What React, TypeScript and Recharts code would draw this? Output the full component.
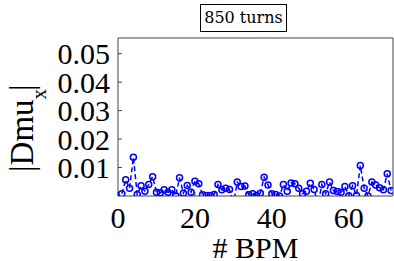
import React from 'react';
import { LineChart, Line, XAxis, YAxis } from 'recharts';

const bpm: number[] = [
  1, 2, 3, 4, 5, 6, 7, 8, 9, 10, 11, 12, 13, 14, 15, 16, 17, 18, 19, 20,
  21, 22, 23, 24, 25, 26, 27, 28, 29, 30, 31, 32, 33, 34, 35, 36, 37, 38, 39, 40,
  41, 42, 43, 44, 45, 46, 47, 48, 49, 50, 51, 52, 53, 54, 55, 56, 57, 58, 59, 60,
  61, 62, 63, 64, 65, 66, 67, 68, 69, 70, 71,
];

const dmux: number[] = [
  0.0008, 0.0057, 0.0027, 0.0136, 0.0005, 0.0036, 0.0017, 0.004, 0.0068, 0.0013,
  0.0011, 0.0022, 0.0013, 0.0022, 0.0001, 0.0064, 0.001, 0.0037, 0.0013, 0.0052,
  0.0043, 0.0004, 0.0002, 0.0002, 0.0005, 0.004, 0.0022, 0.0027, 0.0023, -0.003,
  0.0049, 0.0033, 0.0035, 0.0004, 0.0008, 0.0002, 0.001, 0.0066, 0.0039, 0.0008,
  0.0005, 0.0, 0.004, 0.0017, 0.0046, 0.0043, 0.0027, 0.0008, 0.0017, 0.0045,
  0.0023, -0.003, 0.004, 0.0008, 0.0049, 0.0019, 0.0016, 0.0013, 0.0033, 0.0001,
  0.0036, 0.0002, 0.0107, 0.0027, 0.0, 0.0049, 0.0039, 0.0029, 0.0022, 0.0078,
  0.0019,
];

const xTicks: number[] = [0, 20, 40, 60];
const yTicks: number[] = [0.01, 0.02, 0.03, 0.04, 0.05];
const xLabels: string[] = ['0', '20', '40', '60'];
const yLabels: string[] = ['0.01', '0.02', '0.03', '0.04', '0.05'];
const title = '850 turns';

const data = bpm.map((b, i) => ({ bpm: b, v: dmux[i] }));

const FONT = '"Liberation Serif", serif';
const FRAME = '#444';

const YLabel = (props: any) => {
  const vb = props.viewBox || { x: 0, y: 0, width: 0, height: 0 };
  const bx = vb.x + 33;
  const by = vb.y + vb.height - 24;
  return (
    <text
      transform={`translate(${bx},${by}) rotate(-90)`}
      x={0}
      y={0}
      fontFamily={FONT}
      fontSize={33}
      fill="#000"
      textAnchor="start"
    >
      <tspan>|Dmu</tspan>
      <tspan fontSize={21} dy={13}>x</tspan>
      <tspan dy={-13} dx={-2}>|</tspan>
    </text>
  );
};

export default function App() {
  return (
    <div style={{ position: 'absolute', left: 0, top: 0, width: 394, height: 261, background: '#fff' }}>
      <LineChart
        width={394}
        height={261}
        data={data}
        margin={{ top: 37, right: 0, bottom: 0, left: 0 }}
      >
        <XAxis
          dataKey="bpm"
          type="number"
          domain={[0, 71.5]}
          ticks={xTicks}
          interval={0}
          tickFormatter={(v: number) => xLabels[xTicks.indexOf(v)] ?? String(v)}
          allowDataOverflow
          height={65}
          tickSize={-4}
          tickMargin={15}
          axisLine={{ stroke: FRAME, strokeWidth: 1 }}
          tickLine={{ stroke: FRAME, strokeWidth: 1 }}
          tick={{ fill: '#000', fontFamily: FONT, fontSize: 30 }}
          label={{ value: '# BPM', position: 'insideBottom', offset: 3, fill: '#000', fontFamily: FONT, fontSize: 30 } as any}
        />
        <XAxis
          xAxisId="top"
          orientation="top"
          dataKey="bpm"
          type="number"
          domain={[0, 71.5]}
          ticks={xTicks}
          interval={0}
          height={1}
          tickSize={-4}
          tick={false}
          axisLine={{ stroke: FRAME, strokeWidth: 1 }}
          tickLine={{ stroke: FRAME, strokeWidth: 1 }}
        />
        <YAxis
          type="number"
          domain={[0, 0.0555]}
          ticks={yTicks}
          interval={0}
          tickFormatter={(v: number) => yLabels[yTicks.indexOf(v)] ?? String(v)}
          allowDataOverflow
          width={118}
          tickSize={-4}
          tickMargin={12}
          axisLine={{ stroke: FRAME, strokeWidth: 1 }}
          tickLine={{ stroke: FRAME, strokeWidth: 1 }}
          tick={{ fill: '#000', fontFamily: FONT, fontSize: 30 }}
          label={<YLabel />}
        />
        <YAxis
          yAxisId="right"
          orientation="right"
          type="number"
          domain={[0, 0.0555]}
          ticks={yTicks}
          interval={0}
          width={1}
          tickSize={-4}
          tick={false}
          axisLine={{ stroke: FRAME, strokeWidth: 1 }}
          tickLine={{ stroke: FRAME, strokeWidth: 1 }}
        />
        <Line
          dataKey="v"
          stroke="#0000ff"
          strokeWidth={1.5}
          strokeDasharray="5 3"
          dot={{ r: 3, stroke: '#0000ff', strokeWidth: 1.5, fill: 'none', strokeDasharray: 'none' }}
          clipDot={false}
          activeDot={false}
          isAnimationActive={false}
        />
      </LineChart>
      <div
        style={{
          position: 'absolute',
          left: 200,
          top: 4,
          width: 87,
          height: 28,
          boxSizing: 'border-box',
          border: '1px solid #000',
          background: '#fff',
          fontFamily: '"DejaVu Serif", serif',
          fontSize: 16,
          lineHeight: '26px',
          textAlign: 'center',
          color: '#000',
          whiteSpace: 'nowrap',
        }}
      >
        {title}
      </div>
    </div>
  );
}
